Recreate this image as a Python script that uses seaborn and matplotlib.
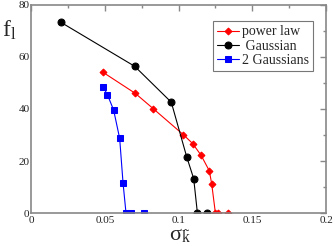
import matplotlib
matplotlib.use("Agg")
import matplotlib.pyplot as plt
import seaborn as sns
import pandas as pd
from matplotlib.ticker import MultipleLocator

sns.set_theme(style="white")
plt.rcParams['font.family'] = ['Liberation Serif', 'DejaVu Serif']
plt.rcParams['mathtext.fontset'] = 'custom'
plt.rcParams['mathtext.rm'] = 'Liberation Serif'
plt.rcParams['mathtext.it'] = 'Liberation Serif'

power_x = [0.0488, 0.0707, 0.0829, 0.1033, 0.1096, 0.1153, 0.1209, 0.1225, 0.125, 0.127, 0.1338]
power_y = [54.1, 46.0, 40.1, 30.1, 26.7, 22.2, 16.2, 11.2, 0, 0, 0]
gauss_x = [0.0203, 0.0703, 0.0951, 0.1055, 0.1103, 0.1128, 0.1195]
gauss_y = [73.3, 56.4, 42.6, 21.7, 13.2, 0, 0]
gauss2_x = [0.049, 0.0518, 0.056, 0.0601, 0.0624, 0.0644, 0.068, 0.0768]
gauss2_y = [48.3, 45.5, 39.6, 28.7, 11.5, 0, 0, 0]
labels = ["power law", " Gaussian", "2 Gaussians"]
xtick_vals = [0, 0.05, 0.1, 0.15, 0.2]
xtick_labels = ["0", "0.05", "0.1", "0.15", "0.2"]
ytick_vals = [0, 20, 40, 60, 80]
colors = ["#ff0000", "#000000", "#0000ff"]
markers = ["D", "o", "s"]
msizes = [3.5, 5, 4.5]

fig = plt.figure(figsize=(3.36, 2.46), dpi=100)
ax = fig.add_axes([0.0923, 0.134, 0.878, 0.846])

series = [(power_x, power_y), (gauss_x, gauss_y), (gauss2_x, gauss2_y)]
for (xs, ys), lab, c, m, ms in zip(series, labels, colors, markers, msizes):
    df = pd.DataFrame({"x": xs, "y": ys})
    sns.lineplot(data=df, x="x", y="y", sort=False, ax=ax, color=c, lw=0.8,
                 marker=m, markersize=ms, markeredgecolor=c, markerfacecolor=c,
                 label=lab, estimator=None)

ax.set_xlim(0, 0.2)
ax.set_ylim(0, 80)
ax.set_xticks(xtick_vals, xtick_labels)
ax.set_yticks(ytick_vals, [str(v) for v in ytick_vals])
ax.xaxis.set_minor_locator(MultipleLocator(0.025))
ax.yaxis.set_minor_locator(MultipleLocator(10))
ax.tick_params(which="both", direction="in", top=True, right=True, colors="#888888",
               labelcolor="#222222", labelsize=8, width=1)
ax.tick_params(which="major", length=4)
ax.tick_params(which="minor", length=2)
ax.tick_params(axis="x", pad=2)
ax.tick_params(axis="y", pad=1)
for s in ax.spines.values():
    s.set_color("#888888")
    s.set_linewidth(1.2)
ax.set_xlabel("")
ax.set_ylabel("")
fig.text(0.028, 0.875, r"f$_\mathrm{l}$", fontsize=17, ha="center", va="center")
fig.text(0.535, 0.005, r"σ$_{\tilde{\mathrm{k}}}$", fontsize=16, ha="center", va="bottom")

leg = ax.legend(loc="upper right", bbox_to_anchor=(0.965, 0.935), fontsize=10,
                frameon=True, fancybox=False, handlelength=1.6, handletextpad=0.2,
                borderpad=0.3, labelspacing=0.1, borderaxespad=0.2)
leg.get_frame().set_edgecolor("#555555")
leg.get_frame().set_linewidth(0.8)

fig.savefig("out.png", dpi=100)
